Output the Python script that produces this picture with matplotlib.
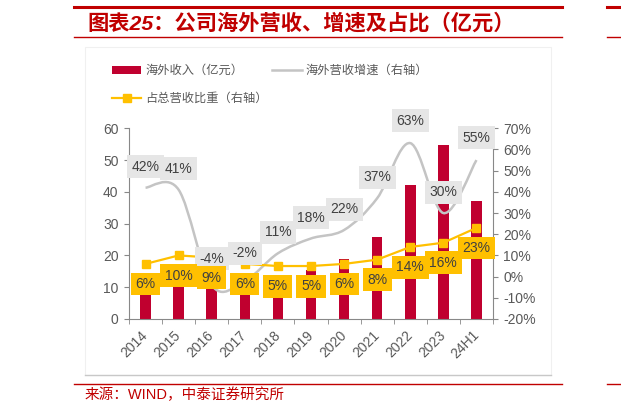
import numpy as np
import matplotlib
matplotlib.use("Agg")
import matplotlib.pyplot as plt
from matplotlib.path import Path
from matplotlib.patches import PathPatch, Patch, Rectangle
from matplotlib.lines import Line2D

plt.rcParams['font.family'] = ['Liberation Sans', 'Noto Sans CJK SC', 'DejaVu Sans']

# ---- dati ----
anni = ['2014', '2015', '2016', '2017', '2018', '2019', '2020', '2021', '2022', '2023', '24H1']
ricavi_esteri = [8.9, 12.5, 12.0, 11.8, 13.1, 15.5, 18.9, 25.9, 42.1, 54.9, 37.0]   # 亿元
crescita = [42, 41, -4, -2, 11, 18, 22, 37, 63, 30, 55]                              # %
quota = [6, 10, 9, 6, 5, 5, 6, 8, 14, 16, 23]                                        # %

ROSSO = '#C00000'
BARRA = '#C0002F'
GRIGIO = '#C4C4C4'
GIALLO = '#FFC000'
TESTO = '#404040'
ASSE = '#595959'


def curva_liscia(xs, ys):
    """Path di Bezier (Catmull-Rom) che passa per i punti dati"""
    n = len(xs)
    verts = [(xs[0], ys[0])]
    codes = [Path.MOVETO]
    for i in range(n - 1):
        a = i - 1 if i > 0 else i
        d = i + 2 if i + 2 < n else i + 1
        c1 = (xs[i] + (xs[i + 1] - xs[a]) / 6, ys[i] + (ys[i + 1] - ys[a]) / 6)
        c2 = (xs[i + 1] - (xs[d] - xs[i]) / 6, ys[i + 1] - (ys[d] - ys[i]) / 6)
        verts += [c1, c2, (xs[i + 1], ys[i + 1])]
        codes += [Path.CURVE4] * 3
    return Path(verts, codes)


fig = plt.figure(figsize=(6.21, 4.15), dpi=100)
ax = fig.add_axes([129 / 621, 1 - 319 / 415, (493 - 129) / 621, (319 - 128.3) / 415])
ax2 = ax.twinx()

x = np.arange(len(anni))

# barre
ax.bar(x, ricavi_esteri, width=0.32, color=BARRA, zorder=2)
ax.set_xlim(-0.5, len(anni) - 0.5)
ax.set_ylim(0, 60)
ax.set_yticks(range(0, 61, 10))

# linee asse destro
ax2.set_ylim(-20, 70)
ax2.set_yticks(range(-20, 71, 10))
ax2.set_yticklabels([f'{v}%' for v in range(-20, 71, 10)])

curva = PathPatch(curva_liscia(x, crescita), facecolor='none', edgecolor=GRIGIO,
                  lw=1.8, zorder=2)
ax2.add_patch(curva)
ax2.plot(x, quota, color=GIALLO, lw=1.6, marker='s', markersize=5.5, zorder=3)

# etichette crescita (sopra)
off_cresc = [15, 15, 19, 20, 15, 15, 15, 15, 16, 15, 16]
for i, v in enumerate(crescita):
    ax2.annotate(f'{v}%', (x[i], v), xytext=(0, off_cresc[i]), textcoords='offset points',
                 ha='center', va='center', fontsize=10, color=TESTO, zorder=5,
                 bbox=dict(boxstyle='square,pad=0.32', fc='#E6E6E6', ec='none'))

# etichette quota (sotto)
for i, v in enumerate(quota):
    ax2.annotate(f'{v}%', (x[i], v), xytext=(0, -14.5), textcoords='offset points',
                 ha='center', va='center', fontsize=10, color=TESTO, zorder=6,
                 bbox=dict(boxstyle='square,pad=0.32', fc=GIALLO, ec='none'))

# assi
for a in (ax, ax2):
    for s in a.spines.values():
        s.set_color('#888888')
    a.spines['top'].set_visible(False)
ax.spines['right'].set_visible(False)
ax2.spines['left'].set_visible(False)
ax2.spines['bottom'].set_visible(False)

ax.set_xticks(x)
ax.set_xticklabels(anni, rotation=45, ha='right', va='center', rotation_mode='anchor')
ax.set_xticks(np.arange(-0.5, len(anni), 1), minor=True)
ax.tick_params(axis='x', which='major', length=0, pad=10, labelsize=10, labelcolor=ASSE)
ax.tick_params(axis='x', which='minor', length=3.5, color='#888888', direction='out')
ax.tick_params(axis='y', length=3.5, color='#888888', labelsize=10, labelcolor=ASSE, pad=4)
ax2.tick_params(axis='y', length=3.5, color='#888888', labelsize=10, labelcolor=ASSE, pad=4)

# legenda
maniglie = [Patch(facecolor=BARRA, edgecolor='none'),
            Line2D([], [], color=GIALLO, lw=1.6, marker='s', markersize=5.5),
            Line2D([], [], color=GRIGIO, lw=1.8)]
etichette = ['海外收入（亿元）', '占总营收比重（右轴）', '海外营收增速（右轴）']
fig.legend(maniglie, etichette, loc='upper left', bbox_to_anchor=(112 / 621, 1 - 65 / 415),
           ncol=2, frameon=False, fontsize=8.8, labelcolor=ASSE, handlelength=2.4,
           handleheight=0.6, handletextpad=0.3, columnspacing=0.4, labelspacing=1.3,
           borderaxespad=0, borderpad=0)

# cornice grafico
fig.add_artist(Rectangle((85 / 621, 1 - 375.3 / 415), (550.7 - 85) / 621, (375.3 - 47) / 415,
                         transform=fig.transFigure, fill=False, ec='#F0F0F0', lw=0.8))
fig.add_artist(Line2D([85 / 621, 550.7 / 621], [1 - 375.3 / 415] * 2, color='#C8C8C8', lw=1))

# linee rosse
for (x0, x1) in [(74, 562), (607, 621)]:
    fig.add_artist(Line2D([x0 / 621, x1 / 621], [1 - 7.5 / 415] * 2, color=ROSSO, lw=2.2))
    fig.add_artist(Line2D([x0 / 621, x1 / 621], [1 - 37.5 / 415] * 2, color=ROSSO, lw=1.0))
    fig.add_artist(Line2D([x0 / 621, x1 / 621], [1 - 384.3 / 415] * 2, color=ROSSO, lw=1.0))

# titolo e fonte
fig.text(87 / 621, 1 - 23 / 415, '图表25：公司海外营收、增速及占比（亿元）', fontsize=15.3,
         fontweight='bold', style='italic', color=ROSSO, ha='left', va='center')
fig.text(85 / 621, 1 - 395 / 415, '来源：WIND，中泰证券研究所', fontsize=10.5,
         color=ROSSO, ha='left', va='center')

fig.savefig('out.png', dpi=100)
